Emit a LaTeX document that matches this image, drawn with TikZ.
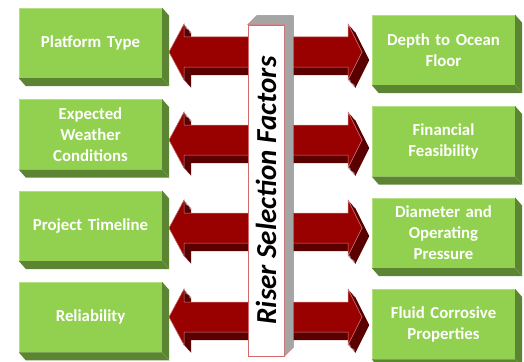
\documentclass[tikz,border=0pt]{standalone}
\usepackage{graphicx}
\usepackage{fontspec}
\setmainfont{Carlito}
\usetikzlibrary{positioning,calc}

\definecolor{factorgreen}{HTML}{92D050}
\definecolor{factorshade}{HTML}{5B8532}
\definecolor{linkred}{HTML}{990000}
\definecolor{linkshade}{HTML}{5A0000}
\definecolor{postgray}{HTML}{A5A5A5}
\definecolor{postedge}{HTML}{D46A6A}

\tikzset{
    factor/.style = {rectangle, fill=factorgreen, draw=factorgreen!70!white,
                     minimum width=143pt, minimum height=70pt, inner sep=2pt,
                     text width=138pt, align=center, text=white,
                     font=\fontsize{16.8}{21}\selectfont\bfseries},
    post/.style   = {rectangle, fill=white, draw=postedge, line width=0.6pt,
                     minimum width=36pt, minimum height=331pt, inner sep=0pt,
                     font=\fontsize{29}{32}\selectfont\bfseries\itshape},
    % double block arrow centred on height #1
    linkpath/.style = {insert path={(169,#1) -- (184,#1-28) -- (184,#1-15)
                     -- (348,#1-15) -- (348,#1-28) -- (362,#1) -- (348,#1+28)
                     -- (348,#1+15) -- (184,#1+15) -- (184,#1+28) -- cycle}}
}

% extruded side and bottom of a box
\newcommand{\boxdepth}[1]{%
    \fill[factorshade] (#1.north east) -- ++(7,8) -- ($(#1.south east)+(7,8)$)
        -- ($(#1.south west)+(7,8)$) -- (#1.south west) -- (#1.south east) -- cycle;
    \draw[factorgreen!60!factorshade, line width=0.3pt] (#1.south east) -- ++(7,8);}

\begin{document}
\begin{tikzpicture}[x=1pt, y=-1pt]
    \useasboundingbox (0,0) rectangle (524,361);
    \clip (0,0) rectangle (524,361);

    \node[factor] (l1) at (90.5,43) {Platform Type};
    \node[factor, below=21pt of l1] (l2) {Expected\\Weather\\Conditions};
    \node[factor, below=21pt of l2] (l3) {Project Timeline};
    \node[factor, below=21pt of l3] (l4) {Reliability};

    \node[factor] (r1) at (443.5,50) {Depth to Ocean\\Floor};
    \node[factor, below=21pt of r1] (r2) {Financial\\Feasibility};
    \node[factor, below=21pt of r2] (r3) {Diameter and\\Operating\\Pressure};
    \node[factor, below=21pt of r3] (r4) {Fluid Corrosive\\Properties};

    \foreach \n in {l1,l2,l3,l4,r1,r2,r3,r4}
        \boxdepth{\n};

    % arrows: dark copies swept underneath give the depth
    \foreach \c in {52,140,228,317} {
        \foreach \s in {0,0.1,...,1}
            \fill[linkshade, shift={(8*\s,9*\s)}, linkpath=\c];
        \draw[fill=linkred, draw=linkred!50!white, line width=0.5pt, linkpath=\c];
    }

    % centre post
    \node[post] (post) at (266,190.5) {\rotatebox{90}{Riser Selection Factors}};
    \filldraw[fill=postgray, draw=postedge, line width=0.4pt]
        (post.north west) -- ++(9,-9) -- ($(post.north east)+(9,-9)$)
        -- ($(post.south east)+(9,-9)$) -- (post.south east) -- (post.north east) -- cycle;
\end{tikzpicture}
\end{document}
